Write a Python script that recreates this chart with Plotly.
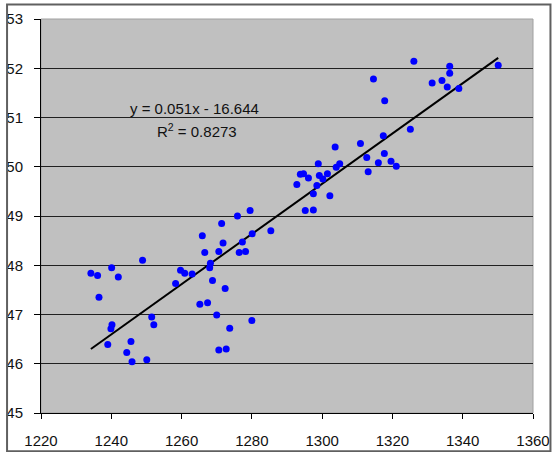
import plotly.graph_objects as go

x_vals = [1234.2, 1236.1, 1236.5, 1240.1, 1242.0, 1248.9, 1239.9, 1240.2, 1239.0, 1245.6,
          1244.4, 1245.9, 1250.1, 1251.5, 1252.1, 1258.3, 1259.7, 1260.9, 1263.0, 1265.9,
          1266.6, 1268.2, 1268.0, 1268.8, 1265.2, 1267.4, 1272.4, 1270.0, 1270.6, 1272.7,
          1273.7, 1270.6, 1271.8, 1276.4, 1278.2, 1277.3, 1280.1, 1280.0, 1285.4, 1271.4,
          1275.9, 1279.5,
          1326.1, 1336.3, 1336.3, 1350.1, 1314.6, 1331.3, 1334.1, 1335.6, 1338.9, 1317.8,
          1325.1, 1317.4, 1303.7, 1310.9, 1312.7, 1317.7, 1316.0, 1319.6, 1321.1, 1313.1,
          1298.9, 1305.0, 1304.0, 1293.8, 1294.7, 1296.1, 1299.2, 1301.5, 1300.2, 1292.8,
          1298.5, 1297.5, 1302.2, 1295.2, 1297.5]
y_vals = [47.84, 47.79, 47.35, 47.95, 47.76, 48.10, 46.71, 46.79, 46.39, 46.45,
          46.23, 46.04, 46.08, 46.95, 46.79, 47.63, 47.90, 47.84, 47.82, 48.60,
          48.26, 48.04, 47.95, 47.69, 47.21, 47.24, 47.53, 46.99, 46.28, 46.30,
          46.72, 48.28, 48.45, 48.26, 48.28, 48.47, 48.64, 46.88, 48.70, 48.85,
          49.00, 49.11,
          52.14, 52.04, 51.90, 52.06, 51.78, 51.70, 51.75, 51.62, 51.59, 51.34,
          50.76, 50.63, 50.40, 50.47, 50.19, 50.27, 50.08, 50.11, 50.01, 49.90,
          50.06, 50.06, 49.99, 49.85, 49.86, 49.77, 49.82, 49.86, 49.75, 49.64,
          49.62, 49.45, 49.41, 49.11, 49.12]

slope = 0.051
intercept = -16.644
r_squared = 0.8273

x_ticks = [1220, 1240, 1260, 1280, 1300, 1320, 1340, 1360]
y_ticks = [45, 46, 47, 48, 49, 50, 51, 52, 53]

trend_x = [min(x_vals), max(x_vals)]
trend_y = [slope * v + intercept for v in trend_x]

FONT = "Liberation Sans, Arial, sans-serif"

fig = go.Figure()
fig.add_trace(go.Scatter(x=trend_x, y=trend_y, mode="lines",
                         line=dict(color="black", width=2), hoverinfo="skip"))
fig.add_trace(go.Scatter(x=x_vals, y=y_vals, mode="markers",
                         marker=dict(color="#0000FF", size=7, line=dict(width=0))))

fig.add_annotation(x=1263.8, y=51.18, text=f"y = {slope}x - {abs(intercept)}",
                   showarrow=False, font=dict(family=FONT, size=15, color="#111111"))
fig.add_annotation(x=1264.3, y=50.73, text=f"R<sup>2</sup> = {r_squared}",
                   showarrow=False, font=dict(family=FONT, size=15, color="#111111"))

# outer chart border
fig.add_shape(type="rect", xref="paper", yref="paper",
              x0=-0.069, x1=1.0355, y0=-0.097, y1=1.0365,
              line=dict(color="#606060", width=2), fillcolor="rgba(0,0,0,0)")
# plot area border
fig.add_shape(type="rect", xref="paper", yref="paper", x0=0, x1=1, y0=0, y1=1,
              line=dict(color="#A0A0A0", width=1), layer="below")

fig.update_layout(
    width=552, height=452,
    margin=dict(l=41, r=19, t=19, b=39, autoexpand=False),
    paper_bgcolor="white", plot_bgcolor="#C0C0C0",
    showlegend=False,
    font=dict(family=FONT, size=15, color="#111111"),
)
fig.update_xaxes(range=[1220, 1360], tickvals=x_ticks, ticks="outside", ticklen=5,
                 tickcolor="black", showgrid=False, zeroline=False,
                 showline=True, linecolor="black", linewidth=1,
                 ticklabelstandoff=9, automargin=False)
fig.update_yaxes(range=[45, 53], tickvals=y_ticks, ticks="outside", ticklen=6,
                 tickcolor="black", showgrid=True, gridcolor="#202020", gridwidth=1,
                 zeroline=False, showline=True, linecolor="black", linewidth=1,
                 ticklabelstandoff=8, automargin=False)

fig.write_html("out.html", config={"displayModeBar": False},
               post_script="document.body.style.margin='0px';document.body.style.overflow='hidden';")
